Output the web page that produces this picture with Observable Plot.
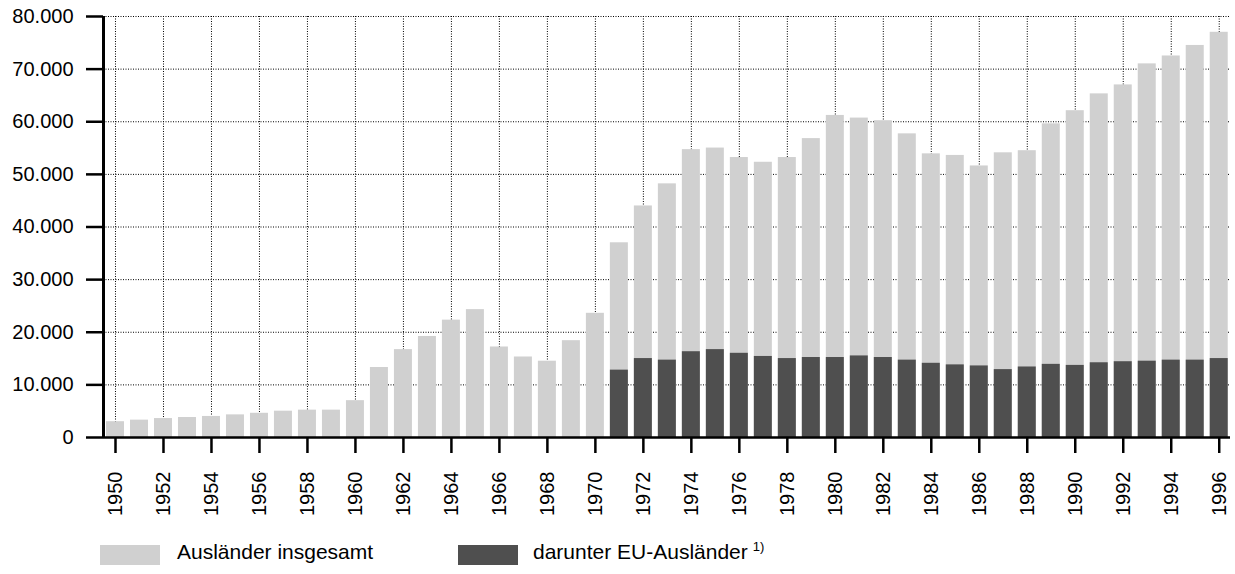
<!DOCTYPE html>
<html><head><meta charset="utf-8">
<script src="https://cdn.jsdelivr.net/npm/d3@7"></script>
<script src="https://cdn.jsdelivr.net/npm/@observablehq/plot@0.6"></script>
<style>
body{margin:0;background:#fff;font-family:"Liberation Sans",Arial,sans-serif;}
#wrap{position:relative;width:1235px;height:574px;overflow:hidden;}
#wrap svg{display:block;}
#wrap svg text{font-size:20px !important;}
.leg{position:absolute;font-size:21px;color:#000;line-height:21px;white-space:nowrap;}
.leg span.sup{font-size:13px;position:relative;top:-8px;margin-left:5px;line-height:0;}
.sw{position:absolute;width:60px;height:20px;}
</style></head><body><div id="wrap"></div>
<script>
const years = [1950,1951,1952,1953,1954,1955,1956,1957,1958,1959,1960,1961,1962,1963,1964,1965,1966,1967,1968,1969,1970,1971,1972,1973,1974,1975,1976,1977,1978,1979,1980,1981,1982,1983,1984,1985,1986,1987,1988,1989,1990,1991,1992,1993,1994,1995,1996];
const totalValues = [3000,3300,3600,3800,4000,4300,4600,5000,5200,5200,7000,13300,16700,19200,22300,24300,17200,15300,14500,18400,23600,37000,44000,48200,54700,55000,53200,52300,53200,56800,61200,60700,60200,57700,53900,53600,51600,54100,54500,59600,62100,65300,67000,71000,72500,74500,77000];
const euYears = [1971,1972,1973,1974,1975,1976,1977,1978,1979,1980,1981,1982,1983,1984,1985,1986,1987,1988,1989,1990,1991,1992,1993,1994,1995,1996];
const euValues = [12800,15000,14700,16300,16700,16000,15400,15000,15200,15200,15500,15200,14700,14100,13800,13600,12900,13400,13900,13700,14200,14400,14500,14700,14700,15000];
const tickYears = [1950,1952,1954,1956,1958,1960,1962,1964,1966,1968,1970,1972,1974,1976,1978,1980,1982,1984,1986,1988,1990,1992,1994,1996];
const yTicks = [0,10000,20000,30000,40000,50000,60000,70000,80000];
const seriesNames = ["Ausländer insgesamt","darunter EU-Ausländer"];
const seriesColors = ["#d0d0d0","#4f4f4f"];

const totals = years.map((y,i)=>({year:y, value:totalValues[i]}));
const eu = euYears.map((y,i)=>({year:y, value:euValues[i]}));
const fmt = d3.formatLocale({decimal:",", thousands:".", grouping:[3], currency:["","€"]}).format(",d");
const xDomain = [years[0]-0.5, years[years.length-1]+0.47];
const half = 0.375;

const chart = Plot.plot({
  width:1235, height:525,
  marginTop:16, marginBottom:88, marginLeft:103, marginRight:5,
  x:{type:"linear", domain:xDomain},
  y:{domain:[0,80000]},
  style:{fontFamily:"'Liberation Sans', Arial, sans-serif", fontSize:"20px", color:"#000", background:"transparent"},
  marks:[
    Plot.ruleY(yTicks.filter(v=>v>0), {stroke:"#000", strokeWidth:1, strokeDasharray:"1,1.5"}),
    Plot.ruleX(tickYears, {y1:0, y2:80000, stroke:"#000", strokeWidth:1, strokeDasharray:"1,1.5"}),
    Plot.rectY(totals, {x1:d=>d.year-half, x2:d=>d.year+half, y1:0, y2:"value", fill:seriesColors[0]}),
    Plot.rectY(eu, {x1:d=>d.year-half, x2:d=>d.year+half, y1:0, y2:"value", fill:seriesColors[1]}),
    Plot.ruleY([0], {stroke:"#000", strokeWidth:2.5}),
    Plot.ruleX([xDomain[0]], {y1:0, y2:80000, stroke:"#000", strokeWidth:3}),
    Plot.axisY({ticks:yTicks, tickFormat:fmt, tickSize:17, tickPadding:13, fontSize:20, strokeWidth:2.5, label:null}),
    Plot.axisX({ticks:tickYears, tickFormat:d=>String(d), tickSize:16, tickPadding:18, tickRotate:-90, fontSize:20, strokeWidth:2.5, label:null})
  ]
});
const wrap = document.getElementById("wrap");
wrap.appendChild(chart);

function addLegend(i, swLeft, textLeft, sup){
  const sw = document.createElement("div");
  sw.className = "sw";
  sw.style.left = swLeft+"px"; sw.style.top = "545px"; sw.style.background = seriesColors[i];
  wrap.appendChild(sw);
  const t = document.createElement("div");
  t.className = "leg";
  t.style.left = textLeft+"px"; t.style.top = "541px";
  t.appendChild(document.createTextNode(seriesNames[i]));
  if (sup) { const s = document.createElement("span"); s.className = "sup"; s.textContent = sup; t.appendChild(s); }
  wrap.appendChild(t);
}
addLegend(0, 100, 177, null);
addLegend(1, 458, 533, "1)");
</script>
</body></html>
